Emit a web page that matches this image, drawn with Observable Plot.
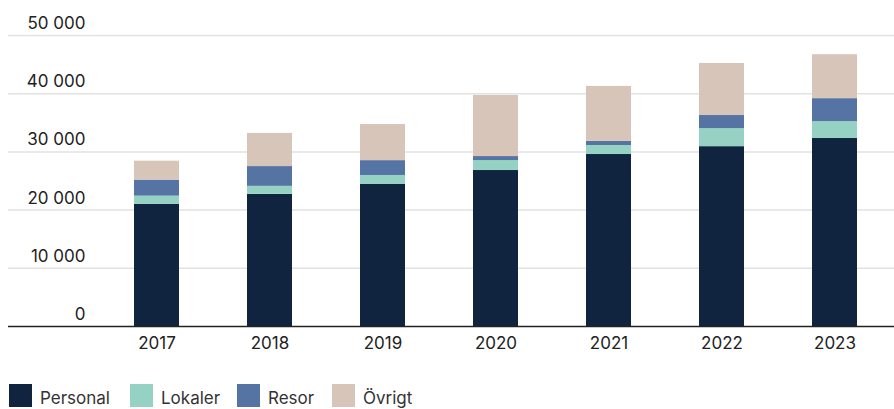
<!DOCTYPE html>
<html>
<head>
<meta charset="utf-8">
<script src="https://cdn.jsdelivr.net/npm/d3@7"></script>
<script src="https://cdn.jsdelivr.net/npm/@observablehq/plot@0.6"></script>
<style>
  html, body { margin: 0; padding: 0; background: #fff; }
  body { width: 894px; height: 409px; overflow: hidden; font-family: Inter, "Open Sans", sans-serif; position: relative; }
  .item { position: absolute; top: 384px; display: flex; align-items: flex-start; font-size: 17px; color: #333; }
  .sw { width: 23px; height: 23px; margin-right: 8px; }
  .lab { line-height: 17px; transform: translateY(6px); }
</style>
</head>
<body>
<div id="chart"></div>
<div id="legend"></div>
<script>
const years = ["2017", "2018", "2019", "2020", "2021", "2022", "2023"];
const personal = [21000, 22700, 24400, 26800, 29550, 30900, 32300];
const lokaler  = [1400, 1380, 1550, 1700, 1550, 3100, 2900];
const resor    = [2750, 3400, 2550, 700, 700, 2250, 3950];
const ovrigt   = [3250, 5700, 6200, 10500, 9450, 8950, 7550];
const seriesNames = ["Personal", "Lokaler", "Resor", "Övrigt"];
const seriesColors = ["#10243f", "#95d2c3", "#5674a3", "#d8c5b9"];
const yTicks = [0, 10000, 20000, 30000, 40000, 50000];

const seriesValues = [personal, lokaler, resor, ovrigt];
const rows = [];
seriesNames.forEach((s, si) => years.forEach((y, i) => rows.push({year: y, series: s, value: seriesValues[si][i]})));

const fmt = d => d3.format(",")(d).replace(/,/g, " ");

const chart = Plot.plot({
  width: 894,
  height: 360,
  marginTop: 35,
  marginBottom: 34,
  marginLeft: 8,
  marginRight: 0,
  style: { fontFamily: "Inter, 'Open Sans', sans-serif", fontSize: "17px", color: "#222", background: "#fff" },
  x: { domain: years, range: [98, 894], paddingInner: 0.6, paddingOuter: 0.3, axis: null },
  y: { domain: [0, 50000], axis: null },
  color: { domain: seriesNames, range: seriesColors },
  marks: [
    Plot.ruleY(yTicks.filter(d => d > 0), { stroke: "#e2e2e2", strokeWidth: 1.5 }),
    Plot.barY(rows, { x: "year", y: "value", fill: "series", order: seriesNames }),
    Plot.ruleY([0], { stroke: "#222", strokeWidth: 1.5 }),
    Plot.text(yTicks, { y: d => d, text: fmt, frameAnchor: "left", dx: 77, dy: -12, textAnchor: "end", fill: "#222", fontSize: 17 }),
    Plot.axisX({ tickSize: 0, tickPadding: 10, fontSize: 17, color: "#222", label: null })
  ]
});
document.getElementById("chart").appendChild(chart);

const legend = document.getElementById("legend");
const starts = [9, 130, 237, 332];
seriesNames.forEach((s, i) => {
  const item = document.createElement("div");
  item.className = "item";
  item.style.left = starts[i] + "px";
  const sw = document.createElement("div");
  sw.className = "sw";
  sw.style.background = seriesColors[i];
  const lab = document.createElement("div");
  lab.className = "lab";
  lab.textContent = s;
  item.appendChild(sw);
  item.appendChild(lab);
  legend.appendChild(item);
});
</script>
</body>
</html>
